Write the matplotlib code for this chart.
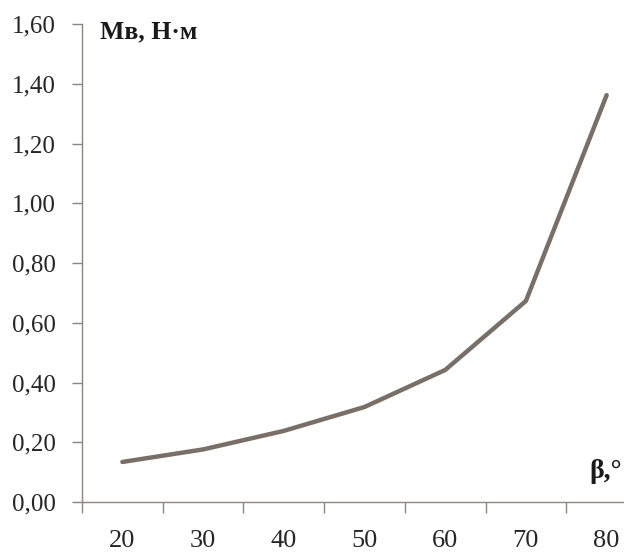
import matplotlib
matplotlib.use("Agg")
import matplotlib.pyplot as plt
from matplotlib.ticker import FuncFormatter, FixedLocator

categories = ["20", "30", "40", "50", "60", "70", "80"]
values = [0.134, 0.176, 0.238, 0.318, 0.442, 0.673, 1.362]
yticks = [0.0, 0.2, 0.4, 0.6, 0.8, 1.0, 1.2, 1.4, 1.6]

plt.rcParams['font.family'] = ['Liberation Serif', 'DejaVu Serif']

W, H = 624, 553
fig = plt.figure(figsize=(W / 100, H / 100), dpi=100)
left, right = 82, 647
bottom, top = 502, 24
ax = fig.add_axes([left / W, 1 - bottom / H, (right - left) / W, (bottom - top) / H])

x = list(range(len(categories)))
ax.plot(x, values, color="#7a6f67", lw=3.2, solid_capstyle="round", solid_joinstyle="round")

ax.set_xlim(-0.5, len(categories) - 0.5)
ax.set_ylim(0, 1.6)
ax.set_yticks(yticks)
ax.yaxis.set_major_formatter(FuncFormatter(lambda v, p: f"{v:.2f}".replace(".", ",")))
ax.set_xticks(x)
ax.set_xticklabels(categories)
ax.xaxis.set_minor_locator(FixedLocator([i + 0.5 for i in range(-1, len(categories))]))
ax.tick_params(axis="x", which="major", length=0, pad=20, labelsize=19, labelcolor="#262626")
ax.tick_params(axis="x", which="minor", length=8, width=1, color="#8c8580", direction="out")
ax.tick_params(axis="y", length=7, width=1, color="#8c8580", pad=12, labelsize=18, labelcolor="#262626")

for s in ["top", "right"]:
    ax.spines[s].set_visible(False)
for s in ["left", "bottom"]:
    ax.spines[s].set_color("#8c8580")
    ax.spines[s].set_linewidth(1)

fig.text(100 / W, 1 - 32 / H, "Мв, Н·м", fontsize=18.5, fontweight="bold", color="#1a1a1a",
         ha="left", va="center")
fig.text(622 / W, 1 - 471 / H, "β,°", fontsize=20, fontweight="bold", color="#1a1a1a",
         ha="right", va="center")

fig.savefig("out.png", dpi=100)
